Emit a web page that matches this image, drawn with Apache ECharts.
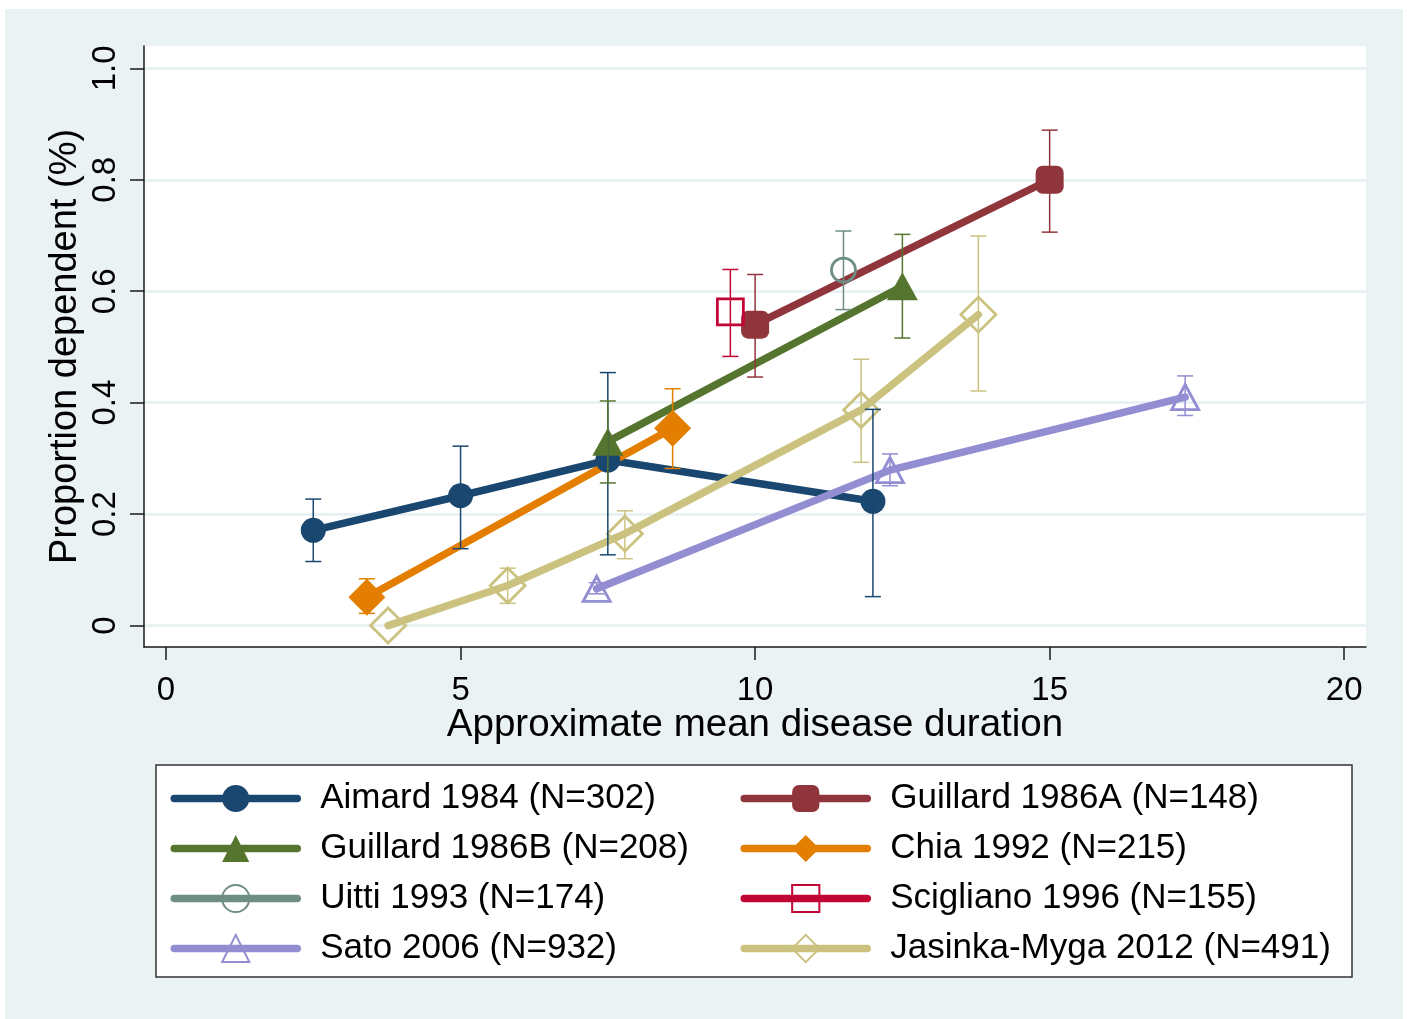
<!DOCTYPE html>
<html>
<head>
<meta charset="utf-8">
<script src="https://cdn.jsdelivr.net/npm/echarts@6.0.0/dist/echarts.min.js"></script>
<style>
  html, body { margin: 0; padding: 0; background: #ffffff; }
  #chart { width: 1407px; height: 1019px; }
</style>
</head>
<body>
<div id="chart"></div>
<script>
// ---- Data: each row is [mean duration, proportion, lower CI, upper CI] ----
const aimard1984     = [[2.5, 0.171, 0.115, 0.227], [5.0, 0.233, 0.138, 0.322], [7.5, 0.297, 0.127, 0.454], [12.0, 0.223, 0.052, 0.388]];
const guillard1986A  = [[10.0, 0.540, 0.446, 0.630], [15.0, 0.800, 0.706, 0.889]];
const guillard1986B  = [[7.5, 0.330, 0.256, 0.403], [12.5, 0.609, 0.516, 0.702]];
const chia1992       = [[3.41, 0.051, 0.022, 0.084], [8.6, 0.354, 0.282, 0.425]];
const uitti1993      = [[11.5, 0.638, 0.567, 0.708]];
const scigliano1996  = [[9.58, 0.563, 0.483, 0.639]];
const sato2006       = [[7.31, 0.066, 0.057, 0.077], [12.29, 0.279, 0.251, 0.308], [17.3, 0.410, 0.377, 0.448]];
const jasinka2012    = [[3.77, 0.000, 0.000, 0.000], [5.8, 0.072, 0.040, 0.103], [7.79, 0.165, 0.120, 0.206], [11.8, 0.387, 0.293, 0.478], [13.79, 0.558, 0.421, 0.699]];

const studyNames = [
  'Aimard 1984 (N=302)', 'Guillard 1986A (N=148)', 'Guillard 1986B (N=208)', 'Chia 1992 (N=215)',
  'Uitti 1993 (N=174)', 'Scigliano 1996 (N=155)', 'Sato 2006 (N=932)', 'Jasinka-Myga 2012 (N=491)'
];
const studyData = [aimard1984, guillard1986A, guillard1986B, chia1992, uitti1993, scigliano1996, sato2006, jasinka2012];

const xTicks = [0, 5, 10, 15, 20];
const yTicks = [0, 0.2, 0.4, 0.6, 0.8, 1.0];
const yTickLabels = ['0', '0.2', '0.4', '0.6', '0.8', '1.0'];

const xTitle = 'Approximate mean disease duration';
const yTitle = 'Proportion dependent (%)';

// ---- Styles ----
const FONT = '"Liberation Sans", Arial, sans-serif';
const styles = [
  { color: '#1a476f', symbol: 'circle',    size: 25, hollow: false },
  { color: '#90353b', symbol: 'roundRect', size: 28, hollow: false },
  { color: '#55752f', symbol: 'triangle',  size: [31, 28], hollow: false },
  { color: '#e37e00', symbol: 'diamond',   size: 37, hollow: false },
  { color: '#6e8e84', symbol: 'circle',    size: 24, hollow: true },
  { color: '#c10534', symbol: 'rect',      size: 26, hollow: true },
  { color: '#938dd2', symbol: 'triangle',  size: [27, 25], hollow: true },
  { color: '#cac27e', symbol: 'diamond',   size: 35, hollow: true }
];

function errRender(color) {
  return function (params, api) {
    const x = api.value(0), lo = api.value(1), hi = api.value(2);
    const a = api.coord([x, lo]);
    const b = api.coord([x, hi]);
    const hw = 8;
    const st = { stroke: color, lineWidth: 1.5, fill: null };
    return {
      type: 'group',
      children: [
        { type: 'line', shape: { x1: a[0], y1: a[1], x2: b[0], y2: b[1] }, style: st },
        { type: 'line', shape: { x1: a[0] - hw, y1: a[1], x2: a[0] + hw, y2: a[1] }, style: st },
        { type: 'line', shape: { x1: b[0] - hw, y1: b[1], x2: b[0] + hw, y2: b[1] }, style: st }
      ]
    };
  };
}

const series = [];
studyNames.forEach(function (name, i) {
  const s = styles[i];
  series.push({
    name: name,
    type: 'line',
    data: studyData[i].map(function (r) { return [r[0], r[1]]; }),
    symbol: s.symbol,
    symbolSize: s.size,
    showSymbol: true,
    showAllSymbol: true,
    lineStyle: { color: s.color, width: 7.5, cap: 'round', join: 'round' },
    itemStyle: s.hollow
      ? { color: 'rgba(255,255,255,0)', borderColor: s.color, borderWidth: 2.8 }
      : { color: s.color, borderColor: s.color, borderWidth: 0 },
    emphasis: { disabled: true },
    z: 2,
    animation: false
  });
});
studyNames.forEach(function (name, i) {
  const s = styles[i];
  series.push({
    name: 'ci_' + i,
    type: 'custom',
    data: studyData[i].filter(function (r) { return r[3] > r[2]; }).map(function (r) { return [r[0], r[2], r[3]]; }),
    encode: { x: 0, y: [1, 2] },
    renderItem: errRender(s.color),
    clip: false,
    z: 3,
    silent: true,
    animation: false
  });
});

const legendCommon = {
  orient: 'vertical',
  itemWidth: 123,
  itemHeight: 34,
  itemGap: 15,
  selectedMode: false,
  padding: 0,
  lineStyle: { width: 7.5, cap: 'round' },
  textStyle: { fontSize: 35, color: '#000', fontFamily: FONT, padding: [0, 0, 0, 18] }
};

const option = {
  backgroundColor: 'transparent',
  animation: false,
  graphic: [
    { type: 'rect', z: -10, shape: { x: 5, y: 9, width: 1398, height: 1010 }, style: { fill: '#eaf2f3' } },
    { type: 'rect', z: 0, shape: { x: 156, y: 765, width: 1196, height: 212 }, style: { fill: '#ffffff', stroke: '#333333', lineWidth: 1.5 } }
  ],
  grid: {
    left: 144, right: 41, top: 46, bottom: 372,
    show: true, backgroundColor: '#ffffff', borderWidth: 0,
    outerBoundsMode: 'none', containLabel: false
  },
  xAxis: {
    type: 'value',
    min: -0.3735, max: 20.37,
    axisLine: { show: true, onZero: false, lineStyle: { color: '#1a1a1a', width: 1.5 } },
    axisTick: { show: true, length: 13, customValues: xTicks, lineStyle: { color: '#1a1a1a', width: 1.5 } },
    axisLabel: { customValues: xTicks, fontSize: 33, color: '#000', fontFamily: FONT, margin: 27 },
    splitLine: { show: false },
    name: xTitle,
    nameLocation: 'middle',
    nameGap: 59,
    nameMoveOverlap: false,
    nameTextStyle: { fontSize: 38.5, color: '#000', fontFamily: FONT, verticalAlign: 'top' }
  },
  yAxis: {
    type: 'value',
    min: -0.0384, max: 1.040,
    axisLine: { show: true, onZero: false, lineStyle: { color: '#1a1a1a', width: 1.5 } },
    axisTick: { show: true, length: 14, customValues: yTicks, lineStyle: { color: '#1a1a1a', width: 1.5 } },
    axisLabel: {
      customValues: yTicks, rotate: 90, fontSize: 33, color: '#000', fontFamily: FONT, margin: 22,
      formatter: function (v) { const k = yTicks.findIndex(function (t) { return Math.abs(t - v) < 1e-9; }); return k >= 0 ? yTickLabels[k] : ''; }
    },
    splitLine: { show: true, lineStyle: { color: '#e6eff1', width: 2.5 } },
    name: yTitle,
    nameLocation: 'middle',
    nameRotate: 90,
    nameGap: 59,
    nameMoveOverlap: false,
    nameTextStyle: { fontSize: 38, color: '#000', fontFamily: FONT }
  },
  legend: [
    Object.assign({}, legendCommon, { left: 170.5, top: 781, data: [studyNames[0], studyNames[2], studyNames[4], studyNames[6]] }),
    Object.assign({}, legendCommon, { left: 740.5, top: 781, data: [studyNames[1], studyNames[3], studyNames[5], studyNames[7]] })
  ],
  series: series
};

const chart = echarts.init(document.getElementById('chart'), null, { renderer: 'canvas' });
chart.setOption(option);
</script>
</body>
</html>
